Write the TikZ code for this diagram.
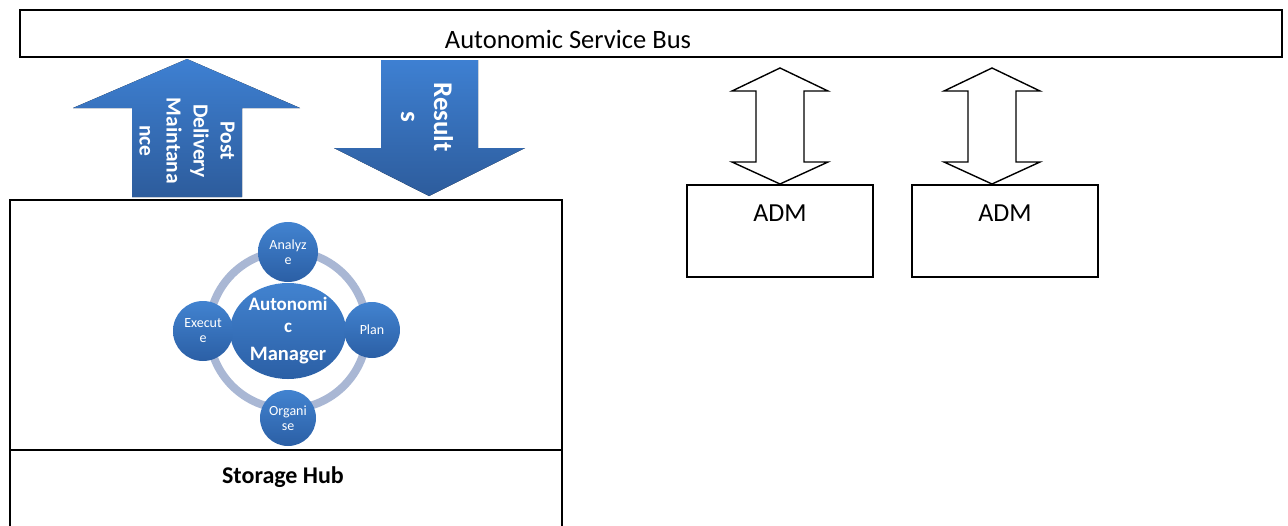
\documentclass[tikz,border=0pt]{standalone}
\usepackage{fontspec}
\setmainfont{Carlito}
\usetikzlibrary{shapes.geometric}
\definecolor{arrowtop}{HTML}{3E80D2}
\definecolor{arrowbot}{HTML}{2D5C9C}
\definecolor{phasetop}{HTML}{4283D0}
\definecolor{phasebot}{HTML}{2B5FA5}
\definecolor{ringcol}{HTML}{A9B7D4}
\tikzset{
  blockarrow/.style={top color=arrowtop,bottom color=arrowbot,draw=none},
  arrowtext/.style={text=white,font=\bfseries,align=center,rotate=-90,inner sep=0pt},
  phase/.style={circle,inner sep=0pt,top color=phasetop,bottom color=phasebot,
    text=white,align=center,font=\fontsize{14}{15}\selectfont},
  admbox/.style={draw,line width=1.2pt,minimum width=186pt,minimum height=92pt,inner sep=0pt},
  twoway/.style={draw,line width=1.4pt,fill=white,line join=miter}
}
\begin{document}
\begin{tikzpicture}[x=1pt,y=-1pt]
\useasboundingbox (0,0) rectangle (1288,525);
\node[draw,line width=1.6pt,minimum width=1262pt,minimum height=47pt,inner sep=0pt] (bus) at (651,33.5) {};
\node[font=\fontsize{26.5}{30}\selectfont] (bustext) at (568,39) {Autonomic Service Bus};

% storage hub
\node[draw,line width=1.2pt,minimum width=552pt,minimum height=328pt,inner sep=0pt] (hub) at (286,364) {};
\coordinate (divl) at (10,450);
\coordinate (divr) at (562,450);
\draw[line width=1.2pt] (divl) -- (divr);
\node[font=\fontsize{24}{28}\selectfont\bfseries] (hubtext) at (283,477) {Storage Hub};

% block arrows
\fill[blockarrow] (187,59) -- (300,108) -- (242,108) -- (242,197) -- (132,197) -- (132,108) -- (73,108) -- cycle;
\node[arrowtext,font=\fontsize{21.5}{27}\selectfont\bfseries] (postdel) at (187,141) {Post\\Delivery\\Maintana\\nce};
\fill[blockarrow] (381,60) -- (478,60) -- (478,148) -- (525,148) -- (429,196) -- (334,148) -- (381,148) -- cycle;
\node[arrowtext,font=\fontsize{27}{33}\selectfont\bfseries] (results) at (427,117) {Result\\s};

% autonomic manager
\draw[ringcol,line width=8pt] (288,330) circle (79pt);
\node[ellipse,inner sep=0pt,minimum width=116pt,minimum height=96pt,top color=phasetop,bottom color=phasebot,
  text=white,align=center,font=\fontsize{19}{22}\selectfont\bfseries] (mgr) at (288,331)
  {Autonomi\\c\\[6pt]{\fontsize{20.5}{24}\selectfont Manager}};
\node[phase,minimum size=60pt] (analyze) at (288,252) {Analyz\\e};
\node[phase,minimum size=60pt] (execute) at (203,331) {Execut\\e};
\node[phase,minimum size=56pt] (plan) at (372,330) {Plan};
\node[phase,minimum size=56pt] (organise) at (288,418) {Organi\\se};

% adm side
\foreach \cx in {780,992}
  \draw[twoway] (\cx,68) -- (\cx+48,91) -- (\cx+24,91) -- (\cx+24,162) -- (\cx+48,162) -- (\cx,184)
    -- (\cx-48,162) -- (\cx-24,162) -- (\cx-24,91) -- (\cx-48,91) -- cycle;
\node[admbox] (adma) at (780,231) {};
\node[admbox] (admb) at (1005,231) {};
\foreach \b in {adma,admb}
  \node[font=\fontsize{26}{30}\selectfont] at ([yshift=-29pt]\b.north) {ADM};
\end{tikzpicture}
\end{document}
